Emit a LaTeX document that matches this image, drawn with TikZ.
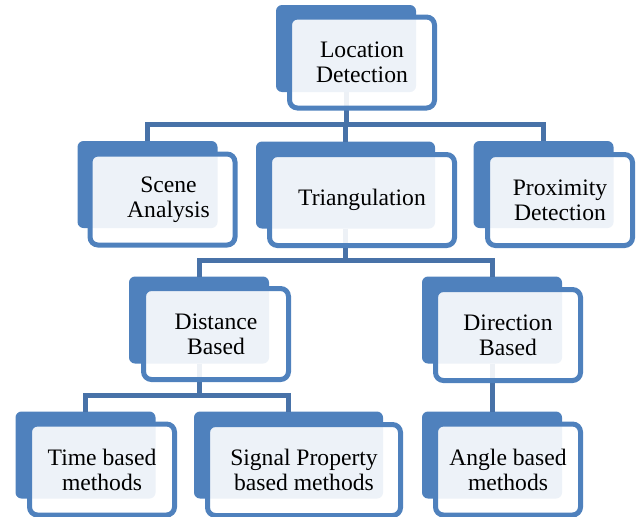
\documentclass[tikz,border=0pt]{standalone}
\usepackage{fontspec}
\setmainfont{Liberation Serif}
\newfontfamily\boxfont{Liberation Serif}
\usepackage{tikz}
\usetikzlibrary{calc,positioning}

\definecolor{boxblue}{HTML}{4F81BD}
\definecolor{linkblue}{HTML}{4872A8}

\tikzset{
  backbox/.style={fill=boxblue, rounded corners=6pt, inner sep=0pt, outer sep=0pt,
    minimum width=140pt, minimum height=87pt},
  frontbox/.style={draw=boxblue, line width=5pt, fill=white, fill opacity=0.9, text opacity=1,
    rounded corners=8pt, inner sep=0pt, outer sep=2.5pt, align=center,
    minimum width=145pt, minimum height=91pt,
    font=\boxfont\fontsize{23.6}{25}\selectfont},
  link/.style={draw=linkblue, line width=5pt}
}

\begin{document}
\begin{tikzpicture}[x=1pt,y=-1pt]
  \useasboundingbox (0,0) rectangle (643,517);
  % back boxes
  \node[backbox] (loc) at (346,48.5) {};
  \node[backbox] (scene) at (147.5,184.5) {};
  \node[backbox, minimum width=179pt] (tri) at (345.5,185) {};
  \node[backbox] (prox) at (543.5,184.5) {};
  \node[backbox] (dist) at (199,320) {};
  \node[backbox] (dir) at (492,320) {};
  \node[backbox] (time) at (85.5,455) {};
  \node[backbox, minimum width=189pt] (signal) at (288.5,455) {};
  \node[backbox] (angle) at (492,455) {};

  % connectors
  \draw[link] (loc.south) -- ++(0,32) -| (scene.north);
  \draw[link] (loc.south) -- ++(0,32) -| (tri.north);
  \draw[link] (loc.south) -- ++(0,32) -| (prox.north);
  \draw[link] (tri.south) -- ++(0,32) -| (dist.north);
  \draw[link] (tri.south) -- ++(0,32) -| (dir.north);
  \draw[link] (dist.south) -- ++(0,32) -| (time.north);
  \draw[link] (dist.south) -- ++(0,32) -| (signal.north);
  \draw[link] (dir.south) -- (angle.north);

  % front boxes
  \node[frontbox] (loc-f) at ($(loc)+(16,14)$) {Location\\Detection};
  \node[frontbox] (scene-f) at ($(scene)+(15,15)$) {\hspace*{12pt}Scene\\\hspace*{12pt}Analysis};
  \node[frontbox, minimum width=185pt] (tri-f) at ($(tri)+(16.5,15)$) {Triangulation};
  \node[frontbox] (prox-f) at ($(prox)+(16.5,15.5)$) {Proximity\\Detection};
  \node[frontbox] (dist-f) at ($(dist)+(17,14)$) {Distance\\Based};
  \node[frontbox] (dir-f) at ($(dir)+(16,15)$) {Direction\\Based};
  \node[frontbox] (time-f) at ($(time)+(16.5,14.5)$) {Time based\\methods};
  \node[frontbox, minimum width=193pt] (signal-f) at ($(signal)+(15.5,15)$) {Signal Property\\based methods};
  \node[frontbox] (angle-f) at ($(angle)+(16,14.5)$) {Angle based\\methods};
\end{tikzpicture}
\end{document}
